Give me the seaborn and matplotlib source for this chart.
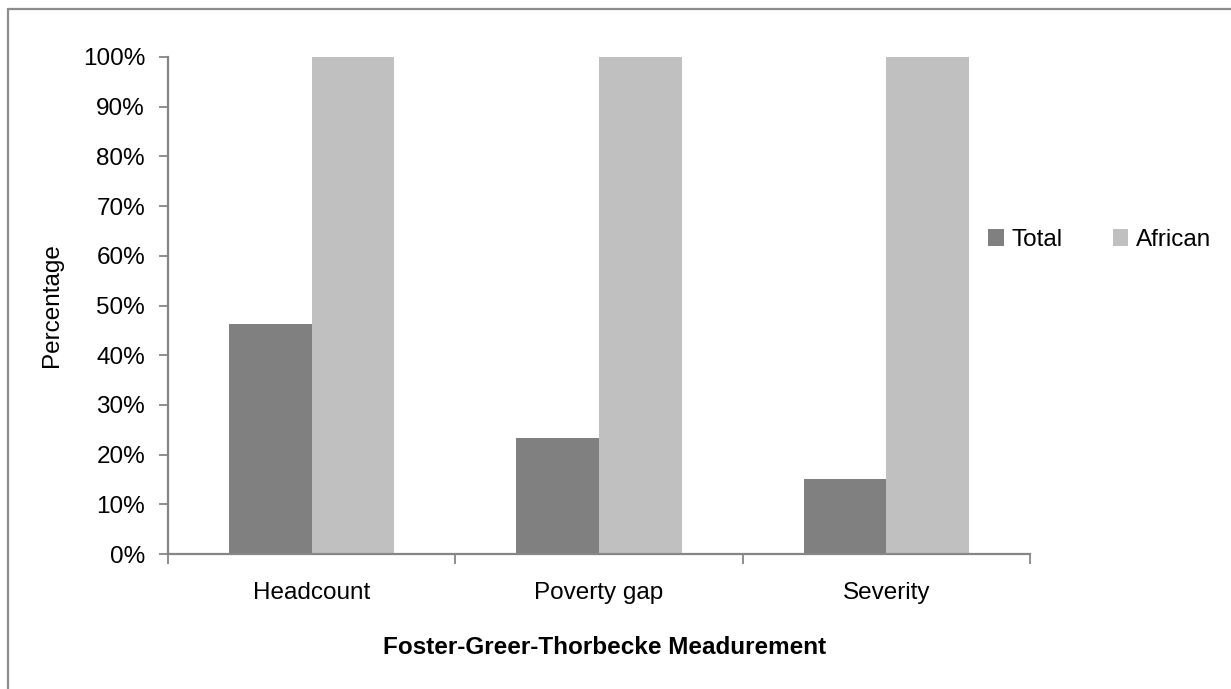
import pandas as pd
import matplotlib
matplotlib.use("Agg")
import matplotlib.pyplot as plt
from matplotlib.ticker import PercentFormatter, FixedLocator
from matplotlib.lines import Line2D
import seaborn as sns

# Chart data
measures = ["Headcount", "Poverty gap", "Severity"]
total = [0.463, 0.234, 0.150]
african = [1.0, 1.0, 1.0]
groups = ["Total", "African"]
colors = ["#808080", "#C0C0C0"]

df = pd.DataFrame({
    "measure": measures * 2,
    "group": ["Total"] * 3 + ["African"] * 3,
    "value": total + african,
})

sns.set_style("white")
plt.rcParams["font.family"] = ["Liberation Sans", "DejaVu Sans"]
plt.rcParams["font.size"] = 17.5
plt.rcParams["text.color"] = "black"
plt.rcParams["axes.labelcolor"] = "black"
plt.rcParams["xtick.color"] = "black"
plt.rcParams["ytick.color"] = "black"

fig = plt.figure(figsize=(12.31, 6.89), dpi=100)
ax = fig.add_axes([0.1365, 0.1959, 0.7002, 0.7214])

sns.barplot(
    data=df,
    x="measure",
    y="value",
    hue="group",
    hue_order=groups,
    palette=colors,
    saturation=1,
    width=0.575,
    gap=0,
    linewidth=0,
    ax=ax,
)

ax.set_xlim(-0.5, 2.5)
ax.set_ylim(0, 1.0)
ax.set_yticks([i / 10 for i in range(11)])
ax.yaxis.set_major_formatter(PercentFormatter(1.0, decimals=0))

# axis styling like the original spreadsheet chart
for side in ["top", "right"]:
    ax.spines[side].set_visible(False)
for side in ["left", "bottom"]:
    ax.spines[side].set_color("#868686")
    ax.spines[side].set_linewidth(1.6)

ax.tick_params(axis="y", which="major", direction="out", length=6.5,
               width=1.3, color="#868686", labelcolor="black", pad=10,
               labelsize=17.5, left=True)
ax.tick_params(axis="x", which="major", length=0, pad=20, labelsize=17.5,
               labelcolor="black")
ax.xaxis.set_minor_locator(FixedLocator([-0.5, 0.5, 1.5, 2.5]))
ax.tick_params(axis="x", which="minor", direction="out", length=7,
               width=1.3, color="#868686", bottom=True)

ax.set_ylabel("Percentage", fontsize=17.5, color="black")
ax.yaxis.set_label_coords(-0.122, 0.5)
ax.set_xlabel("Foster-Greer-Thorbecke Meadurement", fontsize=17.5,
              fontweight="bold", color="black")
ax.xaxis.set_label_coords(0.507, -0.165)

leg = ax.legend(
    loc="center left",
    bbox_to_anchor=(988 / 1231, 1 - 240 / 689),
    bbox_transform=fig.transFigure,
    ncol=2,
    frameon=False,
    fontsize=17.5,
    handlelength=0.65,
    handleheight=0.65,
    handletextpad=0.32,
    columnspacing=2.05,
    borderpad=0,
    borderaxespad=0,
    title=None,
)
for txt in leg.get_texts():
    txt.set_color("black")

# outer chart border (left and top edges visible)
fig.add_artist(Line2D([7.5 / 1231, 7.5 / 1231], [0, 1 - 8.5 / 689],
                      transform=fig.transFigure, color="#8c8c8c", lw=1.6))
fig.add_artist(Line2D([7.5 / 1231, 1], [1 - 8.5 / 689, 1 - 8.5 / 689],
                      transform=fig.transFigure, color="#8c8c8c", lw=1.6))

fig.savefig("out.png", dpi=100)
plt.close(fig)
